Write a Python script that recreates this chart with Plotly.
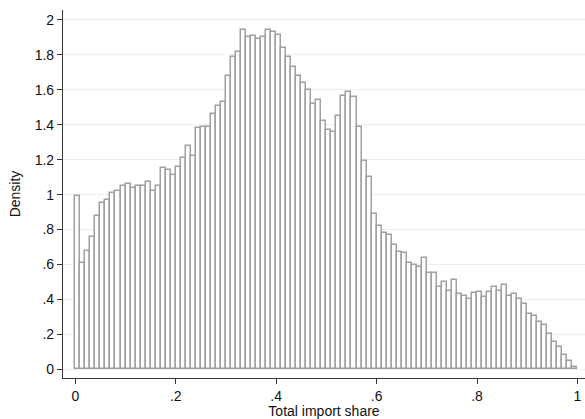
import plotly.graph_objects as go
import numpy as np

bin_start = 0.0
bin_width = 0.01
density = [
    0.99, 0.61, 0.68, 0.76, 0.88, 0.95, 0.97, 1.01, 1.02, 1.05,
    1.06, 1.04, 1.05, 1.05, 1.07, 1.02, 1.05, 1.15, 1.14, 1.11,
    1.16, 1.21, 1.28, 1.22, 1.38, 1.385, 1.39, 1.46, 1.51, 1.53,
    1.68, 1.79, 1.815, 1.945, 1.90, 1.91, 1.89, 1.905, 1.94, 1.93,
    1.915, 1.84, 1.79, 1.73, 1.68, 1.64, 1.60, 1.52, 1.54, 1.42,
    1.37, 1.36, 1.45, 1.565, 1.59, 1.56, 1.39, 1.19, 1.10, 0.89,
    0.82, 0.78, 0.77, 0.71, 0.67, 0.665, 0.61, 0.595, 0.585, 0.64,
    0.55, 0.55, 0.47, 0.50, 0.45, 0.51, 0.43, 0.42, 0.405, 0.435,
    0.44, 0.415, 0.44, 0.47, 0.45, 0.48, 0.42, 0.43, 0.405, 0.375,
    0.315, 0.305, 0.27, 0.255, 0.20, 0.155, 0.13, 0.08, 0.05, 0.013,
]
x_tickvals = [0, 0.2, 0.4, 0.6, 0.8, 1.0]
x_ticktext = ["0", ".2", ".4", ".6", ".8", "1"]
y_tickvals = [0, 0.2, 0.4, 0.6, 0.8, 1.0, 1.2, 1.4, 1.6, 1.8, 2.0]
y_ticktext = ["0", ".2", ".4", ".6", ".8", "1", "1.2", "1.4", "1.6", "1.8", "2"]
x_title = "Total import share"
y_title = "Density"

centers = bin_start + bin_width * (np.arange(len(density)) + 0.5)

font = dict(family="Liberation Sans, Arial, sans-serif", size=14, color="#111111")

fig = go.Figure()
fig.add_trace(go.Bar(
    x=centers, y=density, width=bin_width,
    marker=dict(color="white", line=dict(color="#a0a0a0", width=1.5)),
))

fig.update_layout(
    width=585, height=419,
    margin=dict(l=63, r=0, t=10, b=41, autoexpand=False),
    paper_bgcolor="white", plot_bgcolor="white",
    font=font, showlegend=False, bargap=0,
    xaxis=dict(
        range=[-0.0245, 1.015], tickvals=x_tickvals, ticktext=x_ticktext,
        showline=True, linecolor="#333333", linewidth=1.2,
        ticks="outside", ticklen=5, tickcolor="#333333", tickwidth=1,
        showgrid=False, zeroline=False, automargin=False,
        title=dict(text=x_title, standoff=0, font=font),
    ),
    yaxis=dict(
        range=[-0.0498, 2.057], tickvals=y_tickvals, ticktext=y_ticktext,
        showline=True, linecolor="#333333", linewidth=1.2,
        ticks="outside", ticklen=5, tickcolor="#333333", tickwidth=1,
        showgrid=True, gridcolor="#e8f0f2", gridwidth=1, zeroline=False,
        automargin=False,
        title=dict(text=y_title, standoff=10, font=font),
    ),
)

fig.write_html(
    "out.html",
    config={"displayModeBar": False},
    post_script="document.body.style.margin='0';document.body.style.padding='0';",
)
